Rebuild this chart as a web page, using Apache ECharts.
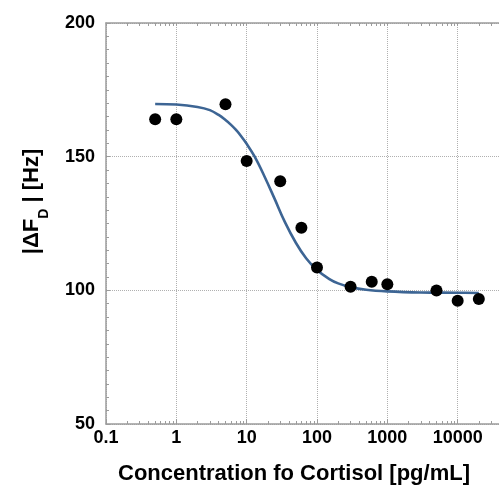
<!DOCTYPE html>
<html><head><meta charset="utf-8">
<script src="https://cdn.jsdelivr.net/npm/echarts@6/dist/echarts.min.js"></script>
<style>html,body{margin:0;padding:0;background:#fff}#c{width:499px;height:487px}</style>
</head><body><div id="c"></div>
<script>
// measured points (concentration pg/mL, |ΔF_D| Hz)
const pointX = [0.5, 1, 5, 10, 30, 60, 100, 300, 600, 1000, 5000, 10000, 20000];
const pointY = [164, 164, 169.6, 148.4, 140.8, 123.4, 108.5, 101.3, 103.2, 102.3, 99.9, 96.1, 96.8];
// fitted curve
const curveX = [0.5, 1, 2, 3, 4, 5, 6, 7, 8, 10, 13, 18, 25, 35, 50, 70, 100, 150, 200, 300, 500, 1000, 3000, 10000, 20000];
const curveY = [169.7, 169.5, 168.6, 167.4, 165.6, 163.7, 161.9, 160.1, 158.3, 154.8, 150, 142.5, 134.2, 125.5, 117.8, 112, 107.6, 104.2, 102.6, 101.2, 100.2, 99.6, 99.2, 99.1, 99.0];
const xTickLabels = [0.1, 1, 10, 100, 1000, 10000];
const yTickLabels = [50, 100, 150, 200];
const xTitle = 'Concentration fo Cortisol [pg/mL]';

// decorative log minor tick positions (exponent space)
const minorExp = [];
for (let d = -1; d < 5; d++) for (let m = 2; m <= 9; m++) minorExp.push(d + Math.log10(m));
const topExp = minorExp.concat([-1, 0, 1, 2, 3, 4, 5]);

const FONT = 'Liberation Sans';
const axisGray = '#9c9c9c';
const gridGray = '#b0b0b0';

const chart = echarts.init(document.getElementById('c'), null, {renderer: 'canvas'});
chart.setOption({
  animation: false,
  title: {
    text: xTitle, left: 294, top: 463, textAlign: 'center', padding: 0,
    textStyle: {fontFamily: FONT, fontSize: 22, fontWeight: 'bold', color: '#000'}
  },
  grid: {left: 106, right: -29, top: 23, bottom: 63, containLabel: false, outerBoundsMode: 'none'},
  xAxis: [
    {
      type: 'log', logBase: 10, min: 0.1, max: 100000, position: 'bottom', splitNumber: 6,
      axisLine: {show: true, onZero: false, lineStyle: {color: axisGray, width: 1.5}},
      axisTick: {show: true, inside: true, length: 5, lineStyle: {color: axisGray}},
      splitLine: {show: true, lineStyle: {type: 'dotted', color: gridGray, width: 1}},
      axisLabel: {
        fontFamily: FONT, fontSize: 18, fontWeight: 'bold', color: '#000', margin: 5,
        formatter: function (v) {
          const n = parseFloat(Number(v).toPrecision(6));
          return xTickLabels.indexOf(n) >= 0 ? String(n) : '';
        }
      }
    },
    {
      type: 'value', min: -1, max: 5, position: 'bottom',
      axisLine: {show: false, onZero: false}, axisLabel: {show: false}, splitLine: {show: false},
      axisTick: {show: true, inside: true, length: 3, customValues: minorExp, lineStyle: {color: axisGray}}
    },
    {
      type: 'value', min: -1, max: 5, position: 'top',
      axisLine: {show: true, onZero: false, lineStyle: {color: axisGray, width: 1.5}},
      axisLabel: {show: false}, splitLine: {show: false},
      axisTick: {show: true, inside: true, length: 3, customValues: topExp, lineStyle: {color: axisGray}}
    }
  ],
  yAxis: {
    type: 'value', min: 50, max: 200, interval: 50,
    axisLine: {show: true, onZero: false, lineStyle: {color: axisGray, width: 1.5}},
    axisTick: {show: true, inside: true, length: 4, lineStyle: {color: axisGray}},
    minorTick: {show: true, splitNumber: 10, length: 3, lineStyle: {color: axisGray}},
    splitLine: {show: true, lineStyle: {type: 'dotted', color: gridGray, width: 1}},
    axisLabel: {
      fontFamily: FONT, fontSize: 18, fontWeight: 'bold', color: '#000', margin: 11,
      formatter: function (v) { return yTickLabels.indexOf(v) >= 0 ? String(v) : ''; }
    },
    name: '{m||ΔF}{s|D}{m| | [Hz]}',
    nameLocation: 'middle', nameRotate: 90, nameGap: 61,
    nameTextStyle: {
      fontFamily: FONT, fontWeight: 'bold', color: '#000', padding: [0, 0, 0, 44],
      rich: {
        m: {fontFamily: FONT, fontSize: 22, fontWeight: 'bold', lineHeight: 24, verticalAlign: 'top', color: '#000'},
        s: {fontFamily: FONT, fontSize: 14, fontWeight: 'bold', lineHeight: 14, verticalAlign: 'top', padding: [16, 0, 0, 0], color: '#000'}
      }
    }
  },
  series: [
    {
      type: 'line', xAxisIndex: 0, yAxisIndex: 0,
      data: curveX.map((x, i) => [x, curveY[i]]),
      smooth: 0.4, showSymbol: false, symbol: 'none',
      lineStyle: {color: '#3d6594', width: 2.6}, z: 2
    },
    {
      type: 'scatter', xAxisIndex: 0, yAxisIndex: 0,
      data: pointX.map((x, i) => [x, pointY[i]]),
      symbol: 'circle', symbolSize: 12,
      itemStyle: {color: '#000', opacity: 1}, z: 3
    }
  ]
});
</script>
</body></html>
